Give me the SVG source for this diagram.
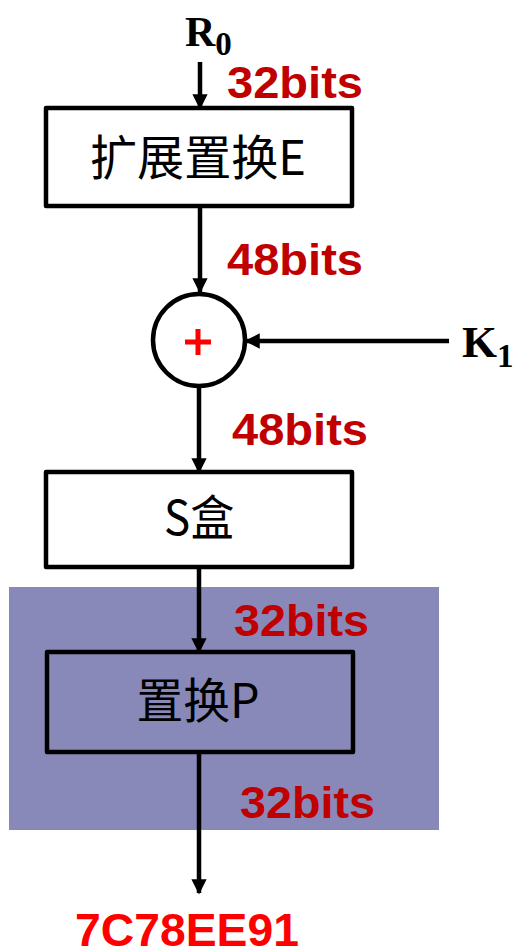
<svg xmlns="http://www.w3.org/2000/svg" width="518" height="950" viewBox="0 0 518 950">
<style>
.box{fill:none;stroke:#000;stroke-width:4.5;stroke-linejoin:round}
.lbl{font-family:"Noto Sans CJK SC","Liberation Sans",sans-serif;font-size:48px;fill:#000;text-anchor:middle}
.bits{font-family:"Liberation Sans",Arial,sans-serif;font-weight:bold;font-size:45px;fill:#C00000}
.var{font-family:"Liberation Serif","Times New Roman",serif;font-weight:bold;fill:#000}
.conn{stroke:#000;stroke-width:4.5;fill:none}
</style>
<defs>
<marker id="ah" viewBox="0 0 10 10" refX="9" refY="5" markerWidth="3.4" markerHeight="3.4" orient="auto" markerUnits="strokeWidth">
<path d="M0,0 L10,5 L0,10 z" fill="#000"/>
</marker>
</defs>
<rect id="highlight" x="9" y="587" width="430" height="243" fill="#8889B8"/>
<g id="connectors">
<line class="conn" x1="200" y1="62" x2="200" y2="108" marker-end="url(#ah)"/>
<line class="conn" x1="200" y1="206" x2="200" y2="292" marker-end="url(#ah)"/>
<line class="conn" x1="449" y1="341" x2="246" y2="341" marker-end="url(#ah)"/>
<line class="conn" x1="199" y1="387" x2="199" y2="472" marker-end="url(#ah)"/>
<line class="conn" x1="199" y1="567" x2="199" y2="652" marker-end="url(#ah)"/>
<line class="conn" x1="199" y1="752" x2="199" y2="893" marker-end="url(#ah)"/>
</g>
<g id="R0">
<text class="var" x="185" y="46" font-size="42">R<tspan font-size="33" dy="9">0</tspan></text>
</g>
<g id="K1">
<text class="var" x="462" y="357" font-size="45">K<tspan font-size="33" dy="10">1</tspan></text>
</g>
<g id="expandE">
<rect class="box" x="46" y="108" width="306" height="98"/>
<text class="lbl" x="198" y="175" font-size="50" textLength="216" lengthAdjust="spacingAndGlyphs">扩展置换E</text>
</g>
<g id="xor">
<circle cx="199" cy="340" r="46" fill="#fff" stroke="#000" stroke-width="4.5"/>
<path d="M185,342 H211 M198,329 V355" stroke="#FF0000" stroke-width="5"/>
</g>
<g id="sbox">
<rect class="box" x="46" y="472" width="306" height="95"/>
<text class="lbl" x="199" y="535" textLength="70" lengthAdjust="spacingAndGlyphs">S盒</text>
</g>
<g id="permP">
<rect class="box" x="47" y="652" width="306" height="100"/>
<text class="lbl" x="198" y="718" textLength="123" lengthAdjust="spacingAndGlyphs">置换P</text>
</g>
<g id="labels">
<text class="bits" x="227" y="98" textLength="136" lengthAdjust="spacingAndGlyphs">32bits</text>
<text class="bits" x="227" y="275" textLength="136" lengthAdjust="spacingAndGlyphs">48bits</text>
<text class="bits" x="232" y="445" textLength="136" lengthAdjust="spacingAndGlyphs">48bits</text>
<text class="bits" x="234" y="636" textLength="135" lengthAdjust="spacingAndGlyphs">32bits</text>
<text class="bits" x="240" y="818" textLength="135" lengthAdjust="spacingAndGlyphs">32bits</text>
<text x="75" y="946" font-family="Liberation Sans,Arial,sans-serif" font-weight="bold" font-size="47" fill="#FF0000" textLength="224" lengthAdjust="spacingAndGlyphs">7C78EE91</text>
</g>
</svg>
